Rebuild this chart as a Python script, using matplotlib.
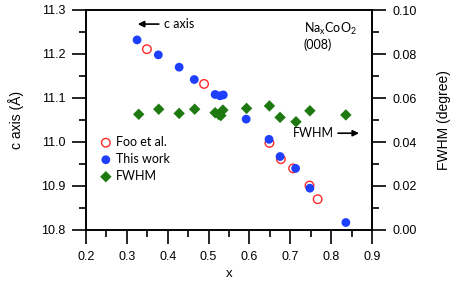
import numpy as np
import matplotlib.pyplot as plt
from matplotlib.ticker import MultipleLocator

plt.rcParams['font.family'] = ['Liberation Sans', 'DejaVu Sans']

# c axis data, Foo et al. (open circles)
x_foo = [0.349, 0.489, 0.649, 0.677, 0.707, 0.747, 0.767]
c_foo = [11.211, 11.132, 10.998, 10.961, 10.940, 10.901, 10.870]

# c axis data, this work (filled circles)
x_this = [0.325, 0.377, 0.428, 0.465, 0.516, 0.528, 0.536, 0.592, 0.648, 0.675, 0.713, 0.748, 0.836]
c_this = [11.232, 11.198, 11.170, 11.142, 11.108, 11.105, 11.107, 11.052, 11.006, 10.967, 10.940, 10.895, 10.817]

# FWHM of (008) peak
x_fwhm = [0.329, 0.378, 0.428, 0.466, 0.516, 0.525, 0.530, 0.535, 0.593, 0.649, 0.675, 0.714, 0.748, 0.836]
fwhm = [0.0526, 0.0549, 0.0530, 0.0549, 0.0533, 0.0525, 0.0520, 0.0545, 0.0553, 0.0564, 0.0512, 0.0492, 0.0542, 0.0523]

fig = plt.figure(figsize=(4.57, 2.81), dpi=100)
ax = fig.add_axes([86/457, 1-230/281, 286/457, 220/281])
ax2 = ax.twinx()

h1 = ax.scatter(x_foo, c_foo, s=38, facecolors='none', edgecolors='#ff2a2a', linewidths=1.0, label='Foo et al.', zorder=3)
h2 = ax.scatter(x_this, c_this, s=40, color='#1f3fff', edgecolors='none', label='This work', zorder=4)
h3 = ax2.scatter(x_fwhm, fwhm, s=34, marker='D', color='#1e7a10', edgecolors='none', label='FWHM', zorder=3)

ax.set_xlim(0.2, 0.9)
ax.set_ylim(10.8, 11.3)
ax2.set_ylim(0.0, 0.10)

ax.xaxis.set_major_locator(MultipleLocator(0.1))
ax.xaxis.set_minor_locator(MultipleLocator(0.05))
ax.yaxis.set_major_locator(MultipleLocator(0.1))
ax.yaxis.set_minor_locator(MultipleLocator(0.05))
ax2.yaxis.set_major_locator(MultipleLocator(0.02))
ax2.yaxis.set_minor_locator(MultipleLocator(0.01))
ax.yaxis.set_major_formatter(plt.FormatStrFormatter('%.1f'))
ax.xaxis.set_major_formatter(plt.FormatStrFormatter('%.1f'))
ax2.yaxis.set_major_formatter(plt.FormatStrFormatter('%.2f'))

for a in (ax, ax2):
    a.tick_params(which='major', direction='out', length=10, width=1.2, labelsize=9, pad=5)
    a.tick_params(which='minor', direction='out', length=5, width=1.2)
    for sp in a.spines.values():
        sp.set_linewidth(1.2)
ax.tick_params(axis='x', which='both', top=False)

ax.set_xlabel('x', fontsize=9.5, labelpad=4)
ax.set_ylabel('c axis (Å)', fontsize=10, labelpad=12)
ax2.set_ylabel('FWHM (degree)', fontsize=10, labelpad=14)

# annotations
txt = dict(fontsize=9, family=['Lato', 'DejaVu Sans'])
ax.annotate('', xy=(0.32, 11.268), xytext=(0.385, 11.268),
            arrowprops=dict(arrowstyle='-|>', color='black', lw=1.2, mutation_scale=9))
ax.text(0.39, 11.268, 'c axis', va='center', ha='left', **txt)
ax.annotate('', xy=(0.875, 11.020), xytext=(0.81, 11.020),
            arrowprops=dict(arrowstyle='-|>', color='black', lw=1.2, mutation_scale=9))
ax.text(0.806, 11.020, 'FWHM', va='center', ha='right', **txt)
ax.text(0.733, 11.257, 'Na$_\\mathregular{x}$CoO$_\\mathregular{2}$', va='center', ha='left', **txt)
ax.text(0.733, 11.220, '(008)', va='center', ha='left', **txt)

leg = ax2.legend(handles=[h1, h2, h3], loc='upper left', bbox_to_anchor=(0.03, 0.45),
                 frameon=False, handletextpad=0.3, borderaxespad=0,
                 labelspacing=0.4, handlelength=1.0, prop={'family': ['Lato', 'DejaVu Sans'], 'size': 9})

fig.savefig('out.png', dpi=100)
